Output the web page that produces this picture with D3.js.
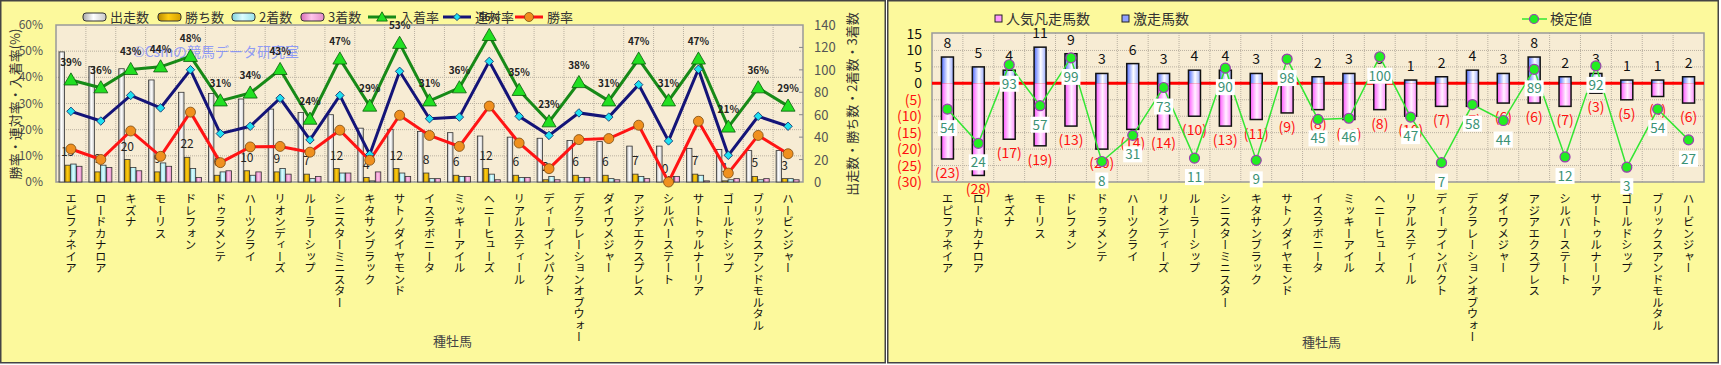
<!DOCTYPE html>
<html>
<head>
<meta charset="utf-8">
<script src="https://cdn.jsdelivr.net/npm/d3@7"></script>
<style>
body { margin: 0; background: #fff; }
svg text { font-family: "Noto Sans CJK JP", "Noto Sans", sans-serif; }
</style>
</head>
<body>
<div id="chart"></div>
<script>
// data
const horses = ["エピファネイア", "ロードカナロア", "キズナ", "モーリス", "ドレフォン", "ドゥラメンテ", "ハーツクライ", "リオンディーズ",
  "ルーラーシップ", "シニスターミニスター", "キタサンブラック", "サトノダイヤモンド", "イスラボニータ", "ミッキーアイル", "ヘニーヒューズ",
  "リアルスティール", "ディープインパクト", "デクラレーションオブウォー", "ダイワメジャー", "アジアエクスプレス", "シルバーステート",
  "サートゥルナーリア", "ゴールドシップ", "ブリックスアンドモルタル", "ハービンジャー"];

const starts = [116, 103, 101, 91, 80, 79, 74, 65, 62, 60, 48, 47, 45, 44, 41, 40, 39, 37, 36, 32, 32, 30, 29, 28, 28];
const wins = [15, 9, 20, 9, 22, 6, 10, 9, 7, 12, 4, 12, 8, 6, 12, 6, 2, 6, 6, 7, 0, 7, 1, 5, 3];
const seconds = [16, 15, 13, 17, 12, 9, 6, 12, 3, 8, 1, 8, 3, 5, 7, 4, 5, 4, 3, 5, 5, 6, 2, 2, 3];
const thirds = [14, 13, 10, 14, 4, 10, 9, 7, 5, 8, 9, 5, 3, 5, 2, 4, 2, 4, 2, 3, 5, 1, 3, 3, 2];

const winRate = [12.6, 8.6, 19.5, 9.8, 26.7, 7.4, 13.4, 13.6, 11.4, 19.8, 8.3, 25.5, 17.8, 13.6, 29.0, 14.9, 5.1, 16.2, 16.6, 21.7, 0, 23.2, 3.4, 17.8, 10.8];
const rentaiRate = [27.0, 23.3, 33.1, 28.3, 42.9, 18.5, 21.3, 32.0, 16.1, 33.1, 10.5, 42.3, 24.2, 24.8, 46.1, 25.1, 17.8, 26.4, 24.8, 37.2, 15.7, 43.1, 10.2, 25.1, 21.3];
const placeRate = [39, 36, 43, 44, 48, 31, 34, 43, 24, 47, 29, 53, 31, 36, 56, 35, 23, 38, 31, 47, 31, 47, 21, 36, 29];

const gekisou = [8, 5, 4, 11, 9, 3, 6, 3, 4, 4, 3, 3, 2, 3, 3, 1, 2, 4, 3, 8, 2, 3, 1, 1, 2];
const bonsou = [23, 28, 17, 19, 13, 20, 14, 14, 10, 13, 11, 9, 8, 11, 8, 10, 7, 7, 6, 6, 7, 3, 5, 4, 6];
const kentei = [54, 24, 93, 57, 99, 8, 31, 73, 11, 90, 9, 98, 45, 46, 100, 47, 7, 58, 44, 89, 12, 92, 3, 54, 27];

const rateTicks = [0, 10, 20, 30, 40, 50, 60];
const countTicks = [0, 20, 40, 60, 80, 100, 120, 140];
const rightTicks = [15, 10, 5, 0, -5, -10, -15, -20, -25, -30];

const svg = d3.select("#chart").append("svg")
  .attr("width", 1721)
  .attr("height", 365);

const defs = svg.append("defs");
const grad = (id, stops) => {
  const g = defs.append("linearGradient").attr("id", id)
    .attr("x1", "0%").attr("x2", "100%").attr("y1", "0%").attr("y2", "0%");
  stops.forEach(s => g.append("stop").attr("offset", s[0]).attr("stop-color", s[1]));
};
grad("gStarts", [["0%", "#a8a8a8"], ["45%", "#ffffff"], ["100%", "#c8c8c8"]]);
grad("gWins", [["0%", "#b88a00"], ["45%", "#ffcc11"], ["100%", "#d49f00"]]);
grad("gSecond", [["0%", "#7fd3dc"], ["45%", "#dcfcff"], ["100%", "#98e2ea"]]);
grad("gThird", [["0%", "#d96cb6"], ["45%", "#ffc4ea"], ["100%", "#e48cc8"]]);
grad("gBlue", [["0%", "#4f6bff"], ["55%", "#ffffff"], ["100%", "#9aaaff"]]);
grad("gPink", [["0%", "#ff55ff"], ["55%", "#fff2ff"], ["100%", "#ff8cff"]]);

// ---------------- left chart ----------------
const L = {left: 56, right: 803, top: 25, bottom: 182};

svg.append("rect")
  .attr("x", 0.75).attr("y", 0.75).attr("width", 884.5).attr("height", 362)
  .attr("fill", "#fcf99c").attr("stroke", "#444").attr("stroke-width", 1.5);

const xL = d3.scaleBand().domain(horses).range([L.left, L.right]);
const bwL = xL.bandwidth();
const keys = ["starts", "wins", "second", "third"];
const xSub = d3.scaleBand().domain(keys).range([3, 26]).paddingInner(0.06);
const yRate = d3.scaleLinear().domain([0, 60]).range([L.bottom, L.top]);
const yCount = d3.scaleLinear().domain([0, 140]).range([L.bottom, L.top]);

const left = svg.append("g");

left.append("rect")
  .attr("x", L.left).attr("y", L.top)
  .attr("width", L.right - L.left).attr("height", L.bottom - L.top)
  .attr("fill", "#f7ecd4");

// grid
left.append("g").selectAll("line")
  .data(rateTicks.slice(1, -1))
  .join("line")
  .attr("x1", L.left).attr("x2", L.right)
  .attr("y1", d => yRate(d)).attr("y2", d => yRate(d))
  .attr("stroke", "#b9b0a0").attr("stroke-dasharray", "1,1");
left.append("g").selectAll("line")
  .data(horses.slice(1))
  .join("line")
  .attr("x1", d => xL(d)).attr("x2", d => xL(d))
  .attr("y1", L.top).attr("y2", L.bottom)
  .attr("stroke", "#b9b0a0").attr("stroke-dasharray", "1,1");

left.append("rect")
  .attr("x", L.left).attr("y", L.top)
  .attr("width", L.right - L.left).attr("height", L.bottom - L.top)
  .attr("fill", "none").attr("stroke", "#999").attr("stroke-width", 1.5);

// bars
const series = {starts: starts, wins: wins, second: seconds, third: thirds};
const fills = {starts: "url(#gStarts)", wins: "url(#gWins)", second: "url(#gSecond)", third: "url(#gThird)"};
keys.forEach(k => {
  left.append("g").selectAll("rect")
    .data(horses)
    .join("rect")
    .attr("x", d => xL(d) + xSub(k))
    .attr("y", (d, i) => yCount(series[k][i]))
    .attr("width", xSub.bandwidth())
    .attr("height", (d, i) => L.bottom - yCount(series[k][i]))
    .attr("fill", fills[k])
    .attr("stroke", "#333").attr("stroke-width", 0.8);
});

// win count labels
left.append("g").selectAll("text")
  .data(horses)
  .join("text")
  .attr("x", d => xL(d) + xSub("wins") + xSub.bandwidth() / 2)
  .attr("y", (d, i) => yCount(wins[i]) - 9)
  .attr("text-anchor", "middle")
  .attr("font-size", 12)
  .attr("fill", "#222")
  .text((d, i) => wins[i]);

// watermark
left.append("text")
  .attr("x", 133).attr("y", 57)
  .attr("font-size", 14)
  .attr("fill", "#6f82ff").attr("fill-opacity", 0.75)
  .text("©Csmの競馬データ研究室");

// lines
const cx = d => xL(d) + bwL / 2;
const lineDefs = [
  {vals: rentaiRate, color: "#141478"},
  {vals: winRate, color: "#ff1414"},
  {vals: placeRate, color: "#178a17"}
];
lineDefs.forEach(s => {
  left.append("path")
    .datum(horses)
    .attr("fill", "none")
    .attr("stroke", s.color).attr("stroke-width", 3)
    .attr("d", d3.line().x(cx).y((d, i) => yRate(s.vals[i])));
});

left.append("g").selectAll("path")
  .data(horses)
  .join("path")
  .attr("transform", (d, i) => `translate(${cx(d)},${yRate(rentaiRate[i])}) rotate(45)`)
  .attr("d", d3.symbol(d3.symbolSquare).size(36))
  .attr("fill", "#1ee0f0").attr("stroke", "#102a6a").attr("stroke-width", 0.8);

left.append("g").selectAll("circle")
  .data(horses)
  .join("circle")
  .attr("cx", cx)
  .attr("cy", (d, i) => yRate(winRate[i]))
  .attr("r", 5)
  .attr("fill", "#f0901e").attr("stroke", "#7a4a10").attr("stroke-width", 0.8);

left.append("g").selectAll("path")
  .data(horses)
  .join("path")
  .attr("transform", (d, i) => `translate(${cx(d)},${yRate(placeRate[i]) + 1})`)
  .attr("d", d3.symbol(d3.symbolTriangle).size(85))
  .attr("fill", "#22e022").attr("stroke", "#0b5a0b").attr("stroke-width", 0.8);

left.append("g").selectAll("text")
  .data(horses)
  .join("text")
  .attr("x", cx)
  .attr("y", (d, i) => yRate(placeRate[i]) - 14)
  .attr("text-anchor", "middle")
  .attr("font-size", 10).attr("font-weight", "bold")
  .attr("fill", "#222")
  .text((d, i) => placeRate[i] + "%");

// axes labels
left.append("g").selectAll("text")
  .data(rateTicks)
  .join("text")
  .attr("x", 43).attr("y", d => yRate(d) + 4)
  .attr("text-anchor", "end")
  .attr("font-size", 12).attr("fill", "#555")
  .text(d => d + "%");

left.append("g").selectAll("line")
  .data(countTicks.slice(1, -1))
  .join("line")
  .attr("x1", L.right - 4).attr("x2", L.right)
  .attr("y1", d => yCount(d)).attr("y2", d => yCount(d))
  .attr("stroke", "#888");

left.append("g").selectAll("text")
  .data(countTicks)
  .join("text")
  .attr("x", 814).attr("y", d => yCount(d) + 5)
  .attr("font-size", 13).attr("fill", "#555")
  .text(d => d);

left.append("text")
  .attr("transform", "translate(20,104) rotate(-90)")
  .attr("text-anchor", "middle")
  .attr("font-size", 13).attr("fill", "#333")
  .text("勝率・連対率・入着率(%)");

left.append("text")
  .attr("transform", "translate(857,104) rotate(-90)")
  .attr("text-anchor", "middle")
  .attr("font-size", 13).attr("fill", "#333")
  .text("出走数・勝ち数・2着数・3着数");

left.append("g").selectAll("text")
  .data(horses)
  .join("text")
  .attr("x", cx).attr("y", 193)
  .style("writing-mode", "vertical-rl")
  .attr("font-size", 11.5).attr("fill", "#111")
  .text(d => d);

left.append("text")
  .attr("x", 433).attr("y", 346)
  .attr("font-size", 13).attr("fill", "#444")
  .text("種牡馬");

// legend
const legL = left.append("g");
const boxItems = [
  {x: 83, key: "starts", label: "出走数"},
  {x: 158, key: "wins", label: "勝ち数"},
  {x: 232, key: "second", label: "2着数"},
  {x: 301, key: "third", label: "3着数"}
];
boxItems.forEach(b => {
  legL.append("rect").attr("x", b.x).attr("y", 13).attr("width", 23).attr("height", 8).attr("rx", 3)
    .attr("fill", fills[b.key]).attr("stroke", "#333");
  legL.append("text").attr("x", b.x + 27).attr("y", 22).attr("font-size", 13).attr("fill", "#333").text(b.label);
});
const lineItems = [
  {x: 368, color: "#178a17", label: "入着率", mark: "tri"},
  {x: 443, color: "#141478", label: "連対率", mark: "dia"},
  {x: 515, color: "#ff1414", label: "勝率", mark: "cir"}
];
lineItems.forEach(b => {
  legL.append("line").attr("x1", b.x).attr("x2", b.x + 28).attr("y1", 17).attr("y2", 17)
    .attr("stroke", b.color).attr("stroke-width", 3);
  if (b.mark === "tri") {
    legL.append("path").attr("transform", `translate(${b.x + 14},18)`).attr("d", d3.symbol(d3.symbolTriangle).size(50))
      .attr("fill", "#22e022").attr("stroke", "#0b5a0b").attr("stroke-width", 0.8);
  } else if (b.mark === "dia") {
    legL.append("path").attr("transform", `translate(${b.x + 14},17) rotate(45)`).attr("d", d3.symbol(d3.symbolSquare).size(26))
      .attr("fill", "#1ee0f0").attr("stroke", "#102a6a").attr("stroke-width", 0.8);
  } else {
    legL.append("circle").attr("cx", b.x + 14).attr("cy", 17).attr("r", 4.5)
      .attr("fill", "#f0901e").attr("stroke", "#7a4a10").attr("stroke-width", 0.8);
  }
  legL.append("text").attr("x", b.x + 32).attr("y", 22).attr("font-size", 13).attr("fill", "#333").text(b.label);
});

// ---------------- right chart ----------------
const R = {left: 932, right: 1704, top: 33, bottom: 182};

svg.append("rect")
  .attr("x", 887.75).attr("y", 0.75).attr("width", 830.5).attr("height", 362)
  .attr("fill", "#fcf99c").attr("stroke", "#444").attr("stroke-width", 1.5);

const right = svg.append("g");
const xR = d3.scaleBand().domain(horses).range([R.left, R.right]);
const bwR = xR.bandwidth();
const yR = d3.scaleLinear().domain([-30, 15]).range([R.bottom, R.top + 1]);
const yK = d3.scaleLinear().domain([-10, 120]).range([R.bottom, R.top + 1]);
const cxR = d => xR(d) + bwR / 2;

right.append("rect")
  .attr("x", R.left).attr("y", R.top)
  .attr("width", R.right - R.left).attr("height", R.bottom - R.top)
  .attr("fill", "#f7ecd4");

right.append("g").selectAll("line")
  .data(rightTicks.slice(1, -1))
  .join("line")
  .attr("x1", R.left).attr("x2", R.right)
  .attr("y1", d => yR(d)).attr("y2", d => yR(d))
  .attr("stroke", "#b9b0a0").attr("stroke-dasharray", "1,1");
right.append("g").selectAll("line")
  .data(horses.slice(1))
  .join("line")
  .attr("x1", d => xR(d)).attr("x2", d => xR(d))
  .attr("y1", R.top).attr("y2", R.bottom)
  .attr("stroke", "#b9b0a0").attr("stroke-dasharray", "1,1");

right.append("rect")
  .attr("x", R.left).attr("y", R.top)
  .attr("width", R.right - R.left).attr("height", R.bottom - R.top)
  .attr("fill", "none").attr("stroke", "#999").attr("stroke-width", 1.5);

// zero line
right.append("line")
  .attr("x1", R.left).attr("x2", R.right)
  .attr("y1", yR(0)).attr("y2", yR(0))
  .attr("stroke", "#ff0000").attr("stroke-width", 3);

const barW = 12;
right.append("g").selectAll("rect")
  .data(horses)
  .join("rect")
  .attr("x", d => cxR(d) - barW / 2)
  .attr("y", yR(0))
  .attr("width", barW)
  .attr("height", (d, i) => yR(-bonsou[i]) - yR(0))
  .attr("fill", "url(#gPink)");
right.append("g").selectAll("rect")
  .data(horses)
  .join("rect")
  .attr("x", d => cxR(d) - barW / 2)
  .attr("y", (d, i) => yR(gekisou[i]))
  .attr("width", barW)
  .attr("height", (d, i) => yR(0) - yR(gekisou[i]))
  .attr("fill", "url(#gBlue)");
right.append("g").selectAll("rect")
  .data(horses)
  .join("rect")
  .attr("x", d => cxR(d) - barW / 2)
  .attr("y", (d, i) => yR(gekisou[i]))
  .attr("width", barW)
  .attr("height", (d, i) => yR(-bonsou[i]) - yR(gekisou[i]))
  .attr("fill", "none").attr("stroke", "#111").attr("stroke-width", 1.5);

right.append("g").selectAll("text")
  .data(horses)
  .join("text")
  .attr("x", cxR)
  .attr("y", (d, i) => yR(gekisou[i]) - 9)
  .attr("text-anchor", "middle")
  .attr("font-size", 14).attr("fill", "#111")
  .text((d, i) => gekisou[i]);

right.append("g").selectAll("text")
  .data(horses)
  .join("text")
  .attr("x", cxR)
  .attr("y", (d, i) => yR(-bonsou[i]) + 19)
  .attr("text-anchor", "middle")
  .attr("font-size", 14).attr("fill", "#ff1010")
  .text((d, i) => "(" + bonsou[i] + ")");

// kentei line
right.append("path")
  .datum(horses)
  .attr("fill", "none")
  .attr("stroke", "#33e633").attr("stroke-width", 1.5)
  .attr("d", d3.line().x(cxR).y((d, i) => yK(kentei[i])));

const kLab = right.append("g").selectAll("g")
  .data(horses)
  .join("g")
  .attr("transform", (d, i) => `translate(${cxR(d)},${yK(kentei[i]) + 19})`);
kLab.append("rect")
  .attr("x", (d, i) => -(String(kentei[i]).length * 6 + 7) / 2)
  .attr("y", -8)
  .attr("width", (d, i) => String(kentei[i]).length * 6 + 7)
  .attr("height", 16)
  .attr("fill", "#fff");
kLab.append("text")
  .attr("y", 5)
  .attr("text-anchor", "middle")
  .attr("font-size", 13.5).attr("fill", "#3a9274")
  .text((d, i) => kentei[i]);

right.append("g").selectAll("circle")
  .data(horses)
  .join("circle")
  .attr("cx", cxR)
  .attr("cy", (d, i) => yK(kentei[i]))
  .attr("r", 5)
  .attr("fill", "#22ee22").attr("stroke", "#9a3fb0").attr("stroke-width", 1.2);

right.append("g").selectAll("text")
  .data(rightTicks)
  .join("text")
  .attr("x", 922).attr("y", d => yR(d) + 5)
  .attr("text-anchor", "end")
  .attr("font-size", 14)
  .attr("fill", d => d < 0 ? "#ff1010" : "#111")
  .text(d => d < 0 ? "(" + (-d) + ")" : d);

right.append("g").selectAll("text")
  .data(horses)
  .join("text")
  .attr("x", cxR).attr("y", 193)
  .style("writing-mode", "vertical-rl")
  .attr("font-size", 11.5).attr("fill", "#111")
  .text(d => d);

right.append("text")
  .attr("x", 1302).attr("y", 347)
  .attr("font-size", 13).attr("fill", "#444")
  .text("種牡馬");

// legend
const legR = right.append("g");
legR.append("rect").attr("x", 995).attr("y", 15).attr("width", 7).attr("height", 7)
  .attr("fill", "#ff99ff").attr("stroke", "#222");
legR.append("text").attr("x", 1006).attr("y", 24).attr("font-size", 14).attr("fill", "#333").text("人気凡走馬数");
legR.append("rect").attr("x", 1122).attr("y", 15).attr("width", 7).attr("height", 7)
  .attr("fill", "#8fa0ff").attr("stroke", "#222");
legR.append("text").attr("x", 1133).attr("y", 24).attr("font-size", 14).attr("fill", "#333").text("激走馬数");
legR.append("line").attr("x1", 1522).attr("x2", 1547).attr("y1", 19).attr("y2", 19)
  .attr("stroke", "#33e633").attr("stroke-width", 1.5);
legR.append("circle").attr("cx", 1534).attr("cy", 19).attr("r", 4.5)
  .attr("fill", "#22ee22").attr("stroke", "#9a3fb0").attr("stroke-width", 1.2);
legR.append("text").attr("x", 1550).attr("y", 24).attr("font-size", 14).attr("fill", "#333").text("検定値");
</script>
</body>
</html>
